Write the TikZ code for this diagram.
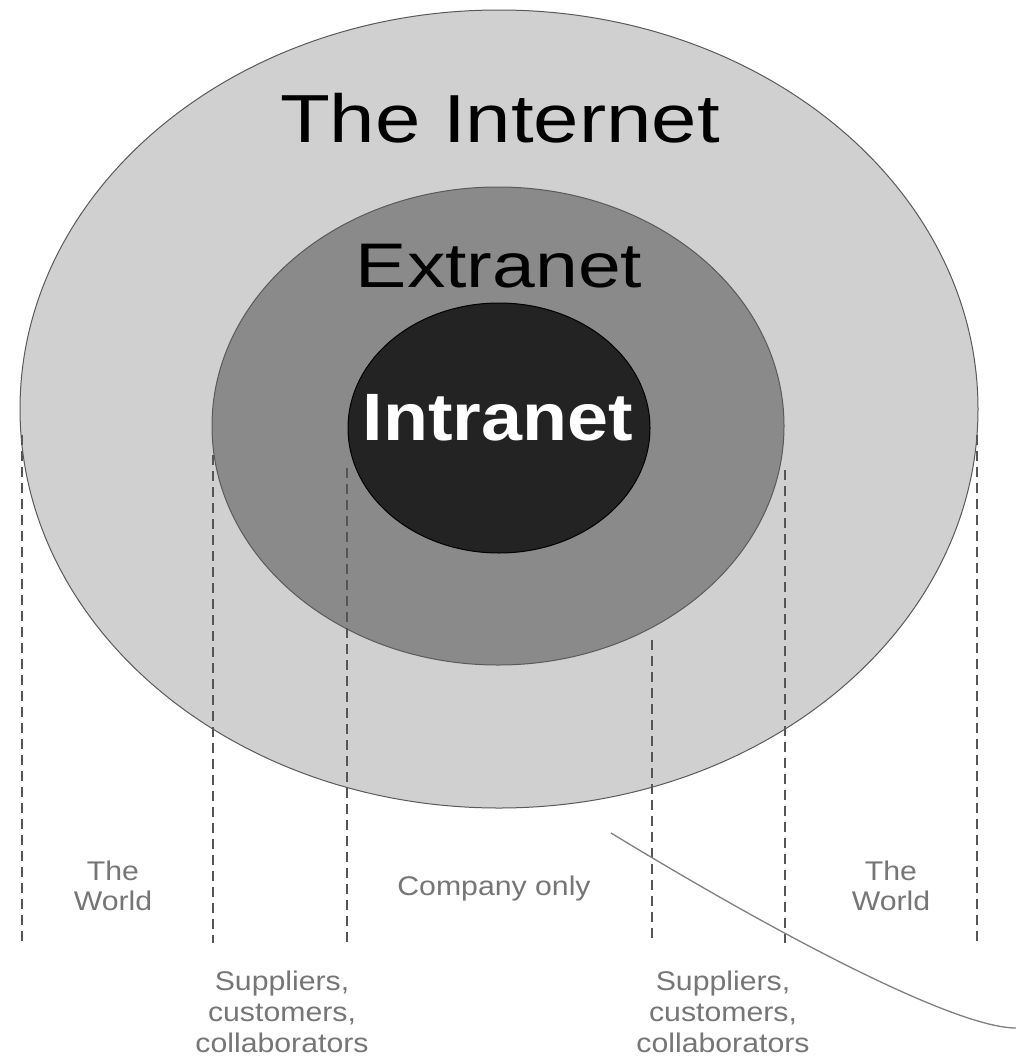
\documentclass[tikz,border=0pt]{standalone}
\usepackage{fontspec}
\setmainfont{Liberation Sans}
\usetikzlibrary{shapes.geometric}
\definecolor{netfill}{HTML}{D0D0D0}
\definecolor{extfill}{HTML}{8A8A8A}
\definecolor{intfill}{HTML}{232323}
\definecolor{edgegray}{HTML}{5A5A5A}
\definecolor{lbl}{HTML}{767676}
\definecolor{divgray}{HTML}{555555}
\begin{document}
\begin{tikzpicture}[x=1pt,y=-1pt,
  zone/.style={ellipse, inner sep=0pt, outer sep=0pt, draw=edgegray, line width=1pt},
  bigtitle/.style={anchor=base, inner sep=0pt, xscale=1.2, font=\fontsize{68}{80}\selectfont},
  midtitle/.style={anchor=base, inner sep=0pt, xscale=1.22, font=\fontsize{63}{75}\selectfont},
  intitle/.style={anchor=base, inner sep=0pt, xscale=1.1, text=white, font=\bfseries\fontsize{67}{80}\selectfont},
  small/.style={anchor=base, inner sep=0pt, xscale=1.12, text=lbl, font=\fontsize{27}{30}\selectfont},
  divider/.style={draw=divgray, line width=2pt, dash pattern=on 10pt off 6pt},
  arcline/.style={draw=gray, line width=1.3pt}]
\useasboundingbox (0,0) rectangle (1016,1060);
\fill[white] (0,0) rectangle (1016,1060);

% zones
\node[zone, fill=netfill, minimum width=958pt, minimum height=798pt] (internet) at (499,409) {};
\node[zone, fill=extfill, minimum width=572pt, minimum height=478pt] (extranet) at (498,426) {};
\node[zone, fill=intfill, draw=black, minimum width=302pt, minimum height=250pt] (intranet) at (499,428) {};

% divider end points
\coordinate (d1t) at (22,435);  \coordinate (d1b) at (22,943);
\coordinate (d2t) at (213,455); \coordinate (d2b) at (213,943);
\coordinate (d3t) at (347,468); \coordinate (d3b) at (347,943);
\coordinate (d4t) at (652,640); \coordinate (d4b) at (652,943);
\coordinate (d5t) at (785,470); \coordinate (d5b) at (785,943);
\coordinate (d6t) at (977,435); \coordinate (d6b) at (977,943);
\draw[divider] (d1t) -- (d1b);
\draw[divider] (d2t) -- (d2b);
\draw[divider] (d3t) -- (d3b);
\draw[divider] (d4t) -- (d4b);
\draw[divider] (d5t) -- (d5b);
\draw[divider] (d6t) -- (d6b);

% curve
\coordinate (cs) at (611,833);
\coordinate (ce) at (1016,1028);
\draw[arcline] (cs) .. controls (800,948) and (960,1028) .. (ce);

% titles
\node[bigtitle] (tInternet) at (500,142) {The Internet};
\node[midtitle] (tExtranet) at (499,287) {Extranet};
\node[intitle] (tIntranet) at (498,440) {Intranet};

% bottom labels
\node[small] (w1a) at (113,880) {The};
\node[small] (w1b) at (113,910) {World};
\node[small] (comp) at (494,895) {Company only};
\node[small] (w2a) at (891,880) {The};
\node[small] (w2b) at (891,910) {World};
\node[small] (s1a) at (282,990) {Suppliers,};
\node[small] (s1b) at (282,1021) {customers,};
\node[small] (s1c) at (282,1052) {collaborators};
\node[small] (s2a) at (723,990) {Suppliers,};
\node[small] (s2b) at (723,1021) {customers,};
\node[small] (s2c) at (723,1052) {collaborators};
\end{tikzpicture}
\end{document}
